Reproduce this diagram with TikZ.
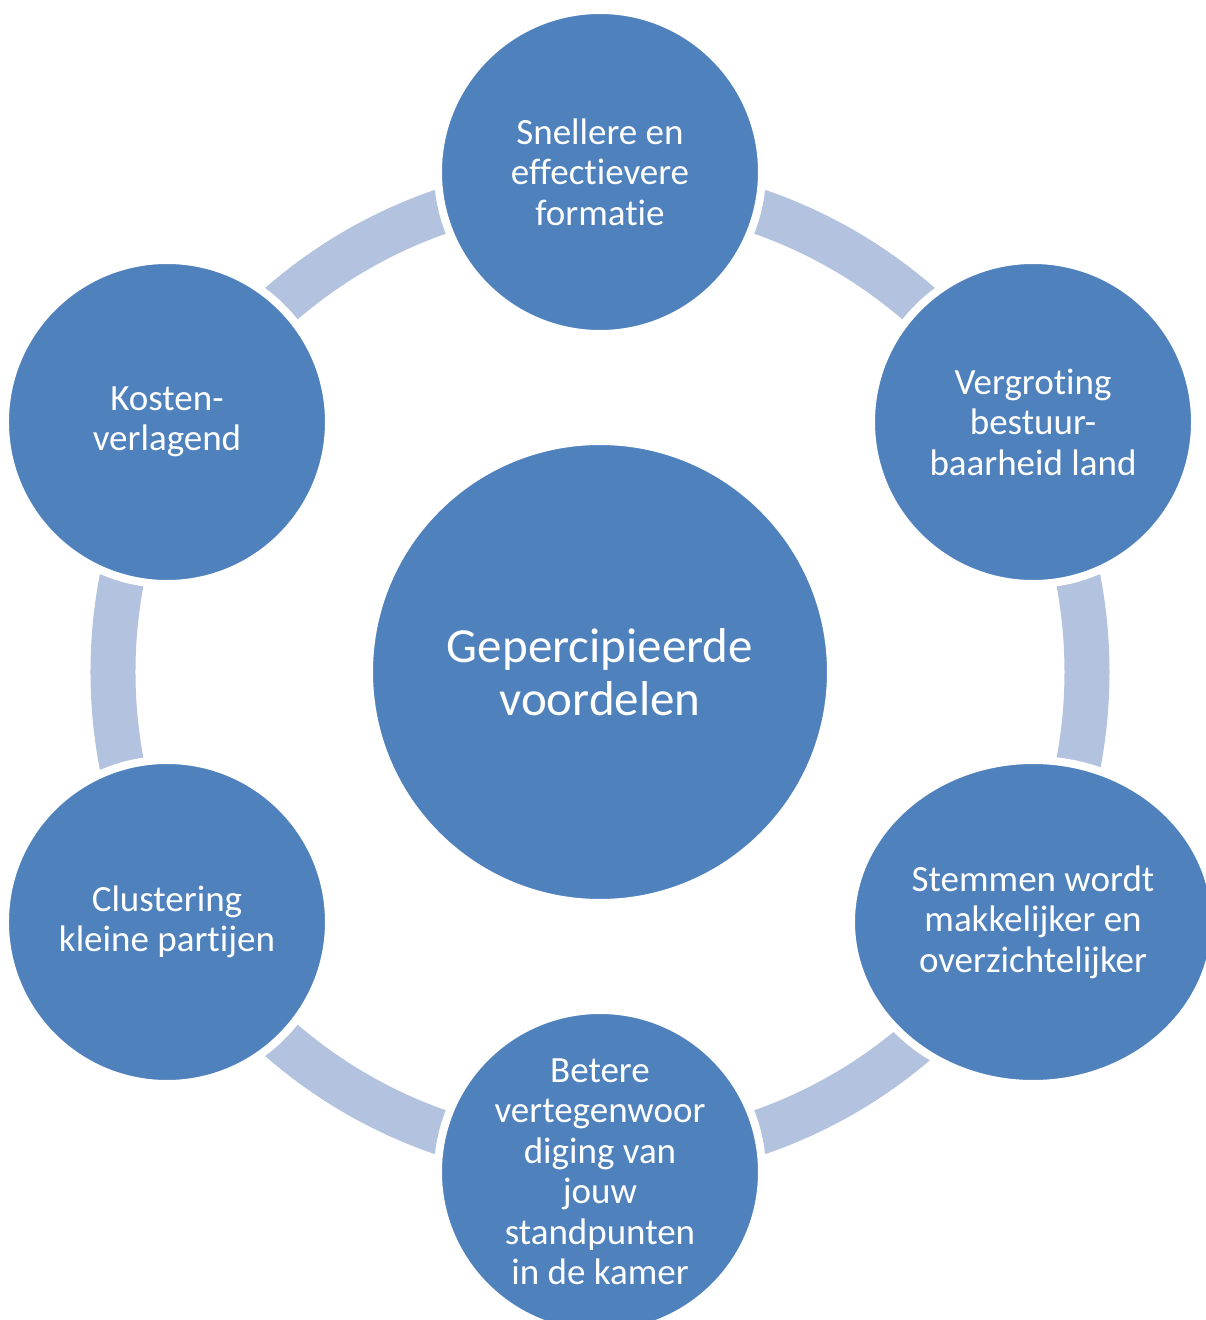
\documentclass[tikz,border=0pt]{standalone}
\usepackage{fontspec}
\setmainfont{Carlito}[Ligatures=NoCommon]
\usetikzlibrary{shapes.geometric}
\definecolor{nodeblue}{RGB}{79,129,189}
\definecolor{ringblue}{RGB}{179,194,222}

\begin{document}
\begin{tikzpicture}[x=1pt,y=1pt,
    ring/.style={draw=ringblue,line width=45pt},
    main node/.style={circle,fill=nodeblue,draw=white,line width=8pt,inner sep=0pt,
                      text=white,align=center},
    outer node/.style={main node,minimum size=324pt,font=\fontsize{37}{40.5}\selectfont},
    centre node/.style={main node,minimum size=462pt,font=\fontsize{49}{53}\selectfont}]
  \useasboundingbox (-600,-648) rectangle (605,672);

  \node[centre node] (centre) at (0,0) {Gepercipieerde\\voordelen};

  % ring behind the outer circles
  \draw[ring] (centre.center) circle (487);

  \node[outer node] (formatie) at (90:500) {Snellere en\\effectievere\\formatie};
  \node[outer node] (bestuur)  at (30:500) {Vergroting\\bestuur-\\baarheid land};
  \node[outer node,ellipse,minimum width=364pt,minimum height=324pt]
        (stemmen)  at (-30:500) {Stemmen wordt\\makkelijker en\\overzichtelijker};
  \node[outer node] (kamer)    at (-90:500) {Betere\\vertegenwoor\\diging van\\jouw\\standpunten\\in de kamer};
  \node[outer node] (partijen) at (210:500) {Clustering\\kleine partijen};
  \node[outer node] (kosten)   at (150:500) {Kosten-\\verlagend};
\end{tikzpicture}
\end{document}
